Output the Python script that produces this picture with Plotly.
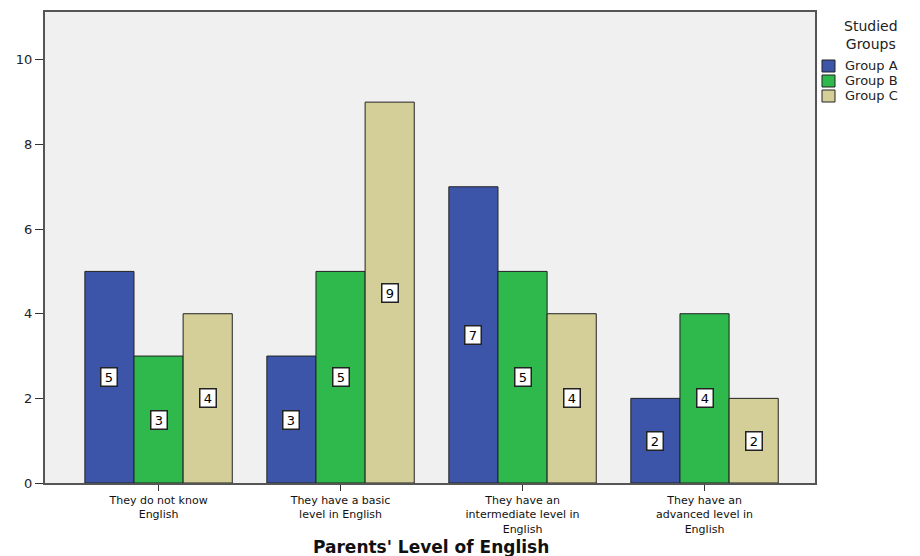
import plotly.graph_objects as go

categories = [
    "They do not know<br>English",
    "They have a basic<br>level in English",
    "They have an<br>intermediate level in<br>English",
    "They have an<br>advanced level in<br>English",
]
group_names = ["Group A", "Group B", "Group C"]
group_a = [5, 3, 7, 2]
group_b = [3, 5, 5, 4]
group_c = [4, 9, 4, 2]
series = [group_a, group_b, group_c]
colors = ["#3c55a8", "#2fb84b", "#d4cf98"]

FONT = "DejaVu Sans"
W, H = 920, 556
ML, MR, MT, MB = 45, 105, 12, 73
PW, PH = W - ML - MR, H - MT - MB


def px_x(px):
    return (px - ML) / PW


def px_y(py):
    return (H - MB - py) / PH


bargap = 0.19
group_width = 1 - bargap
bar_w = group_width / len(series)
xpos = list(range(len(categories)))

fig = go.Figure()
for name, vals, col in zip(group_names, series, colors):
    fig.add_trace(go.Bar(
        x=xpos, y=vals, name=name, showlegend=False,
        marker=dict(color=col, line=dict(color="#222222", width=1)),
    ))

annotations = []
shapes = []

# boxed value labels at half the bar height
for j, vals in enumerate(series):
    off = (j - (len(series) - 1) / 2) * bar_w
    for i, v in enumerate(vals):
        annotations.append(dict(
            x=xpos[i] + off, y=v / 2, xref="x", yref="y",
            text=str(v), showarrow=False, width=13, height=15,
            font=dict(family=FONT, size=13, color="#000"),
            bgcolor="white", bordercolor="#222", borderwidth=1.5, borderpad=1,
        ))

# legend: title, swatches and names
annotations.append(dict(
    x=px_x(871), y=px_y(35), xref="paper", yref="paper",
    text="Studied<br>Groups", showarrow=False, align="center",
    xanchor="center", yanchor="middle",
    font=dict(family=FONT, size=14, color="#222"),
))
for k, (name, col) in enumerate(zip(group_names, colors)):
    cy = 66 + 15 * k
    shapes.append(dict(
        type="rect", xref="paper", yref="paper",
        x0=px_x(822), x1=px_x(835), y0=px_y(cy + 6), y1=px_y(cy - 6),
        fillcolor=col, line=dict(color="#222", width=1),
    ))
    annotations.append(dict(
        x=px_x(843), y=px_y(cy), xref="paper", yref="paper",
        text=name, showarrow=False, xanchor="left", yanchor="middle",
        font=dict(family=FONT, size=13, color="#222"),
    ))

# x-axis title
annotations.append(dict(
    x=px_x(431), y=px_y(547), xref="paper", yref="paper",
    text="<b>Parents' Level of English</b>", showarrow=False,
    xanchor="center", yanchor="middle",
    font=dict(family=FONT, size=17, color="#111"),
))

fig.update_layout(
    width=W, height=H,
    margin=dict(l=ML, r=MR, t=MT, b=MB),
    paper_bgcolor="white", plot_bgcolor="#f0f0f0",
    barmode="group", bargap=bargap, bargroupgap=0,
    font=dict(family=FONT, size=13, color="#222"),
    annotations=annotations, shapes=shapes,
    showlegend=False,
    xaxis=dict(
        tickmode="array", tickvals=xpos, ticktext=categories,
        range=[-0.624, 3.607], automargin=False,
        ticks="outside", ticklen=6, tickcolor="#333",
        showline=True, linecolor="#555", linewidth=1.5, mirror=True,
        showgrid=False, zeroline=False,
        tickfont=dict(family=FONT, size=11, color="#111"),
    ),
    yaxis=dict(
        range=[0, 11.13], tickvals=[0, 2, 4, 6, 8, 10], automargin=False,
        ticks="outside", ticklen=8, tickcolor="#333",
        showline=True, linecolor="#555", linewidth=2, mirror=True,
        showgrid=False, zeroline=False,
        tickfont=dict(family=FONT, size=13, color="#222"),
    ),
)

fig.write_html("out.html")
